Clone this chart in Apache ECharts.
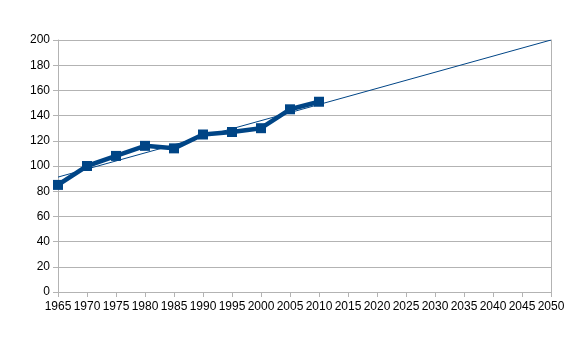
<!DOCTYPE html>
<html>
<head>
<meta charset="utf-8">
<script src="https://cdn.jsdelivr.net/npm/echarts@6/dist/echarts.min.js"></script>
<style>html,body{margin:0;padding:0;background:#fff;}#c{width:588px;height:339px;}</style>
</head>
<body>
<div id="c"></div>
<script>
var years = [1965, 1970, 1975, 1980, 1985, 1990, 1995, 2000, 2005, 2010];
var values = [85, 100, 108, 116, 114, 125, 127, 130, 145, 151];
var trendYears = [1965, 2050];
var trendValues = [91.2, 200];

var chart = echarts.init(document.getElementById('c'));
var grey = '#b3b3b3';
var font = '"Liberation Sans", Arial, sans-serif';
chart.setOption({
  animation: false,
  backgroundColor: '#fff',
  grid: {left: 58, right: 37, top: 40, bottom: 47},
  xAxis: {
    type: 'value', min: 1965, max: 2050, interval: 5,
    axisLine: {show: true, lineStyle: {color: grey, width: 1}},
    axisTick: {show: true, length: 5, lineStyle: {color: grey}},
    splitLine: {show: false},
    axisLabel: {color: '#000', fontFamily: font, fontSize: 12, margin: 9, showMinLabel: true, showMaxLabel: true, hideOverlap: false, formatter: function(v){return String(v);}}
  },
  yAxis: [{
    type: 'value', min: 0, max: 200, interval: 20,
    axisLine: {show: true, lineStyle: {color: grey, width: 1}},
    axisTick: {show: true, length: 5, lineStyle: {color: grey}},
    splitLine: {show: true, lineStyle: {color: grey, width: 1}},
    axisLabel: {color: '#000', fontFamily: font, fontSize: 12, margin: 8}
  }, {
    type: 'value', min: 0, max: 200, interval: 20, position: 'right',
    axisLine: {show: true, lineStyle: {color: grey, width: 1}},
    axisTick: {show: false}, axisLabel: {show: false}, splitLine: {show: false}
  }],
  series: [{
    type: 'line',
    data: years.map(function(y, i){return [y, values[i]];}),
    lineStyle: {color: '#004586', width: 4.5},
    itemStyle: {color: '#004586'},
    symbol: 'rect', symbolSize: 10, showSymbol: true,
    z: 3
  }, {
    type: 'line',
    data: trendYears.map(function(y, i){return [y, trendValues[i]];}),
    lineStyle: {color: '#004586', width: 1},
    symbol: 'none',
    z: 4
  }]
});
</script>
</body>
</html>
